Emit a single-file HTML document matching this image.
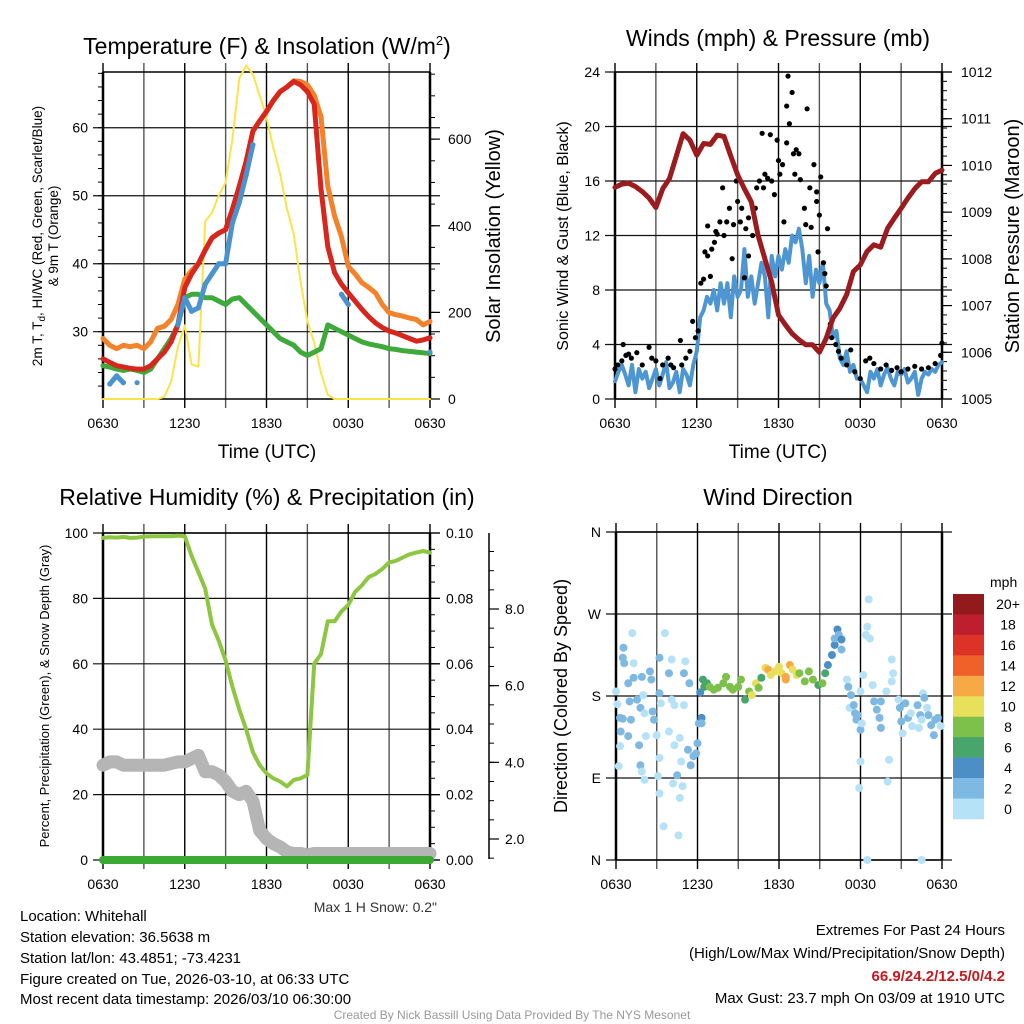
<!DOCTYPE html>
<html><head><meta charset="utf-8"><style>
html,body{margin:0;padding:0;background:#fff;}
svg{display:block;font-family:"Liberation Sans",sans-serif;}
</style></head><body>
<svg id="c" width="1024" height="1024" viewBox="0 0 1024 1024" xmlns="http://www.w3.org/2000/svg">
<rect width="1024" height="1024" fill="#fff"/>
<g id="g"></g>
<text x="267" y="54" font-size="23" text-anchor="middle">Temperature (F) &amp; Insolation (W/m<tspan dy="-9" font-size="13">2</tspan><tspan dy="9">)</tspan></text>
<text x="778" y="46" font-size="23" text-anchor="middle">Winds (mph) &amp; Pressure (mb)</text>
<text x="267" y="505" font-size="23" text-anchor="middle">Relative Humidity (%) &amp; Precipitation (in)</text>
<text x="778" y="505" font-size="23" text-anchor="middle">Wind Direction</text>
<text x="267" y="458" font-size="19" text-anchor="middle">Time (UTC)</text>
<text x="778" y="458" font-size="19" text-anchor="middle">Time (UTC)</text>
<text transform="translate(42,236) rotate(-90)" font-size="13.5" text-anchor="middle">2m T, T<tspan font-size="10" dy="3">d</tspan><tspan dy="-3">, HI/WC (Red, Green, Scarlet/Blue)</tspan></text>
<text transform="translate(58,236) rotate(-90)" font-size="13.5" text-anchor="middle">&amp; 9m T (Orange)</text>
<text transform="translate(500,236) rotate(-90)" font-size="20" text-anchor="middle">Solar Insolation (Yellow)</text>
<text transform="translate(568,236) rotate(-90)" font-size="16" text-anchor="middle">Sonic Wind &amp; Gust (Blue, Black)</text>
<text transform="translate(1019,236) rotate(-90)" font-size="20" text-anchor="middle">Station Pressure (Maroon)</text>
<text transform="translate(49,696) rotate(-90)" font-size="13" text-anchor="middle">Percent, Precipitation (Green), &amp; Snow Depth (Gray)</text>
<text transform="translate(567,696) rotate(-90)" font-size="18" text-anchor="middle">Direction (Colored By Speed)</text>
<text x="437" y="912" font-size="14" text-anchor="end" fill="#333">Max 1 H Snow: 0.2"</text>
<g font-size="15">
<text x="20" y="921">Location: Whitehall</text>
<text x="20" y="942">Station elevation: 36.5638 m</text>
<text x="20" y="963">Station lat/lon: 43.4851; -73.4231</text>
<text x="20" y="984">Figure created on Tue, 2026-03-10, at 06:33 UTC</text>
<text x="20" y="1004">Most recent data timestamp: 2026/03/10 06:30:00</text>
</g>
<g font-size="15" text-anchor="end">
<text x="1005" y="935">Extremes For Past 24 Hours</text>
<text x="1005" y="958">(High/Low/Max Wind/Precipitation/Snow Depth)</text>
<text x="1005" y="981" fill="#c8181e" font-weight="bold">66.9/24.2/12.5/0/4.2</text>
<text x="1005" y="1003">Max Gust: 23.7 mph On 03/09 at 1910 UTC</text>
</g>
<text x="512" y="1019" font-size="12" fill="#999" text-anchor="middle">Created By Nick Bassill Using Data Provided By The NYS Mesonet</text>
</svg>
<script>
// ---- data (half-hourly from 0630 UTC) ----
const xTickLabels = ["0630","1230","1830","0030","0630"];
const tempRed = [26,25.5,25,24.8,24.6,24.5,24.5,25,26,27, 28.5,31,36.5,38.5,40,42,43.8,44.5,45,48, 51.4,55,59.5,61,62.4,64,65.3,66,66.8,66.3, 65.3,63.5,51,42.5,38.7,37,35.7,34.5,33.3,32.2, 31.3,30.6,30.1,29.8,29.4,29,28.6,28.8,29.1];
const temp9mOrange = [29,28,27.5,28,27.8,28,27.5,28.5,30.5,30.8, 31.8,34,37.7,39,40,42,43.8,44.5,45,48, 51.4,55,59.5,61,62.4,64,65.3,66,66.9,66.8, 66.3,64.8,61.6,51.4,47,44,39.6,38.5,37.2,36.5, 35.7,34,32.8,32.5,32.3,32,31.8,31,31.5];
const dewGreen = [25,24.8,24.5,24.3,24.5,24.3,24,24.5,26,27.5, 29,31,35,35.5,35.5,35,35,34.5,34,34.8, 35,34,33,32,31,30,29,28.5,28,27, 26.5,27,27.5,31,30.5,30,29.5,29,28.5,28.2, 28,27.8,27.5,27.4,27.2,27.1,27,26.9,26.8];
const hiwcBlue = [null,22.3,23.5,22.5,null,22.5,null,null,null,null, null,31,35,33,33.5,37,38.5,40,40,46, 49,53,57.5,null,null,null,null,null,null,null, null,null,null,null,null,35.5,34,null,null,null, null,null,null,null,null,null,null,null,27];
const insolation = [0,0,0,0,0,0,0,0,0,5, 40,120,170,80,75,410,430,470,500,600, 740,770,750,700,650,580,520,440,380,270, 180,130,60,10,0,0,0,0,0,0, 0,0,0,0,0,0,0,0,0];
const pressure = [1009.53,1009.6,1009.62,1009.55,1009.44,1009.3,1009.1,1009.5,1009.72,1010.2, 1010.68,1010.54,1010.22,1010.47,1010.45,1010.65,1010.62,1010.2,1009.8,1009.5, 1009.22,1008.5,1008.0,1007.5,1006.8,1006.59,1006.4,1006.27,1006.16,1006.16, 1006.0,1006.3,1006.73,1006.94,1007.23,1007.73,1007.87,1008.16,1008.3,1008.25, 1008.65,1008.87,1009.08,1009.3,1009.5,1009.65,1009.65,1009.83,1009.9];
const rh = [98.5,98.7,98.6,98.8,98.5,98.6,98.9,99,99,99, 99,99.2,99,93,88,83,72,67,61,53, 46,40,33,29,26.5,25,24,22.5,24.5,25, 26,60,63,73,73,76,78,82,84,86.5, 87.5,89,91,91.5,92.5,93.5,94,94.5,94];
const snowDepth = [29,30,30,29,29,29,29,29,29,29, 29.5,30,30,31,32,27,27,26,24,21, 20,21,18,9,6.5,5,4,2.5,2,2, 1.5,2,2,2,2,2,2,2,2,2, 2,2,2,2,2,2,2,2,2];
const precip = [0,0,0,0,0,0,0,0,0,0, 0,0,0,0,0,0,0,0,0,0, 0,0,0,0,0,0,0,0,0,0, 0,0,0,0,0,0,0,0,0,0, 0,0,0,0,0,0,0,0,0];
// quarter-hourly sonic wind
const windSpeed = [1.3,2.0,2.5,1.8,1.0,2.5,0.5,2.2,1.5,2.0,0.8,1.5,2.2,1.0,1.8,2.7,0.8,1.2,2.0,0.5,2.2,1.8,1.0,2.5,
 3.5,6.0,6.5,7.5,7.0,8.0,6.5,8.5,7.0,8.5,6.0,9.0,7.5,8.0,11.0,7.5,9.0,7.0,8.5,10.0,9.0,6.0,10.5,9.0,
 10.5,9.5,11.0,10.0,12.0,11.5,12.5,11.0,8.5,10.5,7.5,9.5,8.5,10.0,7.0,6.5,4.5,5.0,3.0,2.5,3.5,2.0,2.5,1.5,
 1.5,1.0,0.5,2.0,1.5,2.2,1.0,1.8,2.3,1.5,1.0,2.0,1.8,2.2,1.2,1.5,2.0,0.3,1.5,2.0,1.8,2.2,2.0,2.5,2.7];
const gustTimes = [0,0.2,0.5,0.6,0.8,1.0,1.2,1.6,2.0,2.5,2.7,3.0,3.3,3.5,3.9,4.1,4.3,4.8,4.9,5.2,5.5,5.7,5.9,6.1,6.3,6.5,6.6,6.8,6.8,7.0,7.1,7.3,7.4,7.5,7.7,7.9,8.0,8.2,8.4,8.6,8.7,8.9,9.0,9.2,9.3,9.5,9.6,9.8,9.8,10.1,10.3,10.4,10.6,10.8,10.9,11.0,11.2,11.4,11.5,11.7,11.9,12.0,12.1,12.3,12.4,12.6,12.6,12.7,12.8,13.0,13.1,13.2,13.3,13.5,13.6,13.9,14.0,14.1,14.3,14.4,14.6,14.8,14.8,14.9,15.0,15.1,15.3,15.4,15.5,15.6,15.8,15.9,16.2,16.4,16.6,17.0,17.3,17.6,18.0,18.4,18.7,19.0,19.5,19.9,20.3,20.7,21.0,21.5,22.0,22.5,23.0,23.5,23.9,24];
const gustValues = [2.2,2.5,2.8,4,3.2,3.3,3.0,3.4,2.5,3.8,3.0,2.8,1.5,2.5,3.0,2.5,2.3,4.3,2.5,3.0,3.5,5.7,4.5,5.0,8.5,8.8,10.8,10.5,12.7,9.0,11.0,11.5,12.3,12.1,13.0,15.5,12.0,13.0,14.0,10.3,12.8,16.0,14.5,13.0,14.0,8.9,12.5,13.3,10.5,12.0,14.0,15.5,16.0,19.5,15.5,16.5,16.2,19.4,16.0,15.0,19.0,17.5,16.5,17.2,13.0,18.8,21.5,23.7,20.2,22.5,18.0,16.5,18.3,18.0,16.1,14.0,12.8,21.3,15.5,12.6,17.2,15.2,14.5,10.8,13.5,16.3,10.0,9.2,8.3,12.5,5.5,4.5,4.0,3.5,3.0,2.5,3.6,2.0,1.5,2.8,3.0,2.6,2.2,2.5,2.1,2.3,2.0,2.2,2.4,2.2,2.3,2.6,3.2,4.1];
const dirTimes = [0,0.1,0.3,0.3,0.2,0.35,0.5,0.55,0.6,0.5,0.9,1.0,1.2,1.3,1.3,1.1,0.9,1.55,1.8,1.9,2.0,2.1,1.7,1.8,1.9,2.1,2.2,2.5,2.6,2.7,2.8,3.0,3.2,3.6,3.2,3.3,3.2,3.1,3.2,3.5,3.9,4.1,4.1,4.3,3.9,4.3,4.5,4.2,5.0,5.1,5.4,5.0,4.7,4.8,4.9,4.7,4.6,5.3,5.5,5.7,5.9,6.0,6.1,6.3,6.3,6.2,6.4,6.5,
 6.7,6.9,7.2,7.5,7.9,8.1,8.4,8.6,9.0,9.2,9.5,9.8,10.0,10.3,10.5,10.7,11.0,11.2,11.4,11.7,12.0,12.2,12.5,12.8,12.5,13.0,13.3,13.5,13.9,14.2,14.5,14.9,15.2,15.4,15.6,15.9,16.1,16.1,16.3,16.4,16.6,16.6,
 17.0,17.1,17.3,17.2,17.5,17.6,17.7,17.8,18.0,18.1,18.0,17.9,18.0,18.2,18.4,18.5,18.7,18.6,18.9,19.0,19.2,19.4,19.5,19.5,19.9,20.3,20.4,20.3,20.1,20.0,20.8,20.9,21.0,21.1,21.3,21.5,21.7,21.8,22.2,22.4,22.3,22.5,22.6,22.7,22.9,23.0,23.2,23.4,23.5,23.7,23.9,22.5,18.5];
const dirDegrees = [185,171,156,125,103,141,222,233,216,155,194,174,249,200,216,154,136,176,167,201,181,161,126,104,97,88,136,207,198,163,154,137,222,249,183,172,112,92,73,37,205,220,176,170,141,126,93,84,205,218,194,170,134,108,81,68,27,121,104,114,117,128,150,156,150,184,198,190,
 194,190,187,189,194,201,190,187,190,198,176,185,181,194,189,200,211,209,203,207,212,205,201,214,198,209,203,205,196,207,198,192,194,205,214,225,236,243,253,247,242,231,
 198,190,181,167,170,161,154,159,143,150,108,79,185,203,247,256,243,286,192,174,165,156,145,174,185,220,205,196,110,86,176,167,152,139,172,156,161,147,170,159,145,154,183,178,167,159,148,137,154,156,147,0,0];
const dirSpeeds = [0,0,2,0,0,2,2,2,2,2,2,2,0,2,0,2,2,2,2,2,0,0,2,2,0,0,0,2,2,2,2,0,2,0,2,0,0,0,0,0,2,0,0,0,0,0,2,0,2,0,2,0,0,0,0,0,0,2,2,2,2,2,2,4,2,4,6,6,
 6,8,8,8,8,8,8,8,8,8,6,8,10,10,8,6,10,12,10,10,10,10,12,12,12,10,10,8,8,8,8,6,8,6,4,4,4,2,4,2,4,2,
 0,2,2,0,2,2,2,2,2,0,0,0,0,0,0,0,0,0,0,2,2,2,2,2,0,0,0,0,0,0,0,2,2,0,2,2,0,0,2,2,0,0,0,2,0,2,2,2,2,2,0,0,0];
const speedBins = ["20+","18","16","14","12","10","8","6","4","2","0"];
const binColors = ["#921a1c","#be1e2d","#dd3327","#ef6128","#f6a945","#e8e05a","#7dc04a","#47a66c","#4b8fc6","#7db9e3","#b5e2f7"];

// ---- helpers ----
const NS="http://www.w3.org/2000/svg";
const G=document.getElementById('g');
function mk(tag,attrs,parent){const e=document.createElementNS(NS,tag);for(const k in attrs)e.setAttribute(k,attrs[k]);(parent||G).appendChild(e);return e;}
function lin(d0,d1,r0,r1){return v=>r0+(v-d0)*(r1-r0)/(d1-d0);}
function halfHours(n,step){const a=[];for(let i=0;i<n;i++)a.push(i*step);return a;}

function panel(name,L,R,T,B,yTicks,yFmt,gridY){
  const g=mk('g',{});
  
  
  const xs=lin(0,24,L,R);
  for(let h=0;h<=24;h+=3){
    const x=xs(h);
    const ln=mk('line',{x1:x,x2:x,y1:T-9,y2:B+9,stroke:(h%6===0)?'#000':'#555','stroke-width':1.4},g);
    
    
  }
  xTickLabels.forEach((s,i)=>{
    const t=mk('text',{x:xs(i*6),y:B+29,'font-size':14,'text-anchor':'middle'},g);
    
    
    t.textContent=s;
  });
  yTicks.forEach(tk=>{
    const y=gridY(tk);
    const ln=mk('line',{x1:L-10,x2:R+10,y1:y,y2:y,stroke:'#111','stroke-width':1.2},g);
    
    
    const t=mk('text',{x:L-15,y:y+5,'font-size':14,'text-anchor':'end'},g);
    
    
    t.textContent=yFmt(tk);
  });
  mk('line',{x1:L,x2:L,y1:T,y2:B,stroke:'#000','stroke-width':2.5},g);
  mk('line',{x1:R,x2:R,y1:T,y2:B,stroke:'#000','stroke-width':2.5},g);
  mk('line',{x1:L,x2:R,y1:T,y2:T,stroke:'#000','stroke-width':1.5},g);
  mk('line',{x1:L,x2:R,y1:B,y2:B,stroke:'#000','stroke-width':1.5},g);
  return xs;
}
function rightAxis(name,R,ticks,sy,fmt,minor,offset){
  const g=mk('g',{});
  
  
  minor.forEach(v=>mk('line',{x1:R,x2:R+5,y1:sy(v),y2:sy(v),stroke:'#000','stroke-width':1},g));
  ticks.forEach(v=>{
    mk('line',{x1:R,x2:R+10,y1:sy(v),y2:sy(v),stroke:'#000','stroke-width':1.2},g);
    const t=mk('text',{x:R+offset,y:sy(v)+5,'font-size':14},g);
    t.textContent=fmt(v);
  });
}
function line(name,ts,vals,xs,ys,color,w,parent){
  let d='';let pen=false;
  vals.forEach((v,i)=>{
    if(v===null){pen=false;return;}
    d+=(pen?'L':'M')+xs(ts[i]).toFixed(1)+' '+ys(v).toFixed(1)+' ';pen=true;
  });
  const p=mk('path',{d:d,fill:'none',stroke:color,'stroke-width':w,'stroke-linejoin':'round','stroke-linecap':'round'},parent);
  
  
  return p;
}

const T49=halfHours(49,0.5);
const T97=halfHours(97,0.25);

// ---- Panel 1: temperature ----
{
  const L=103,R=430,T=72,B=399;
  const ys=lin(20.1,68.2,B,T);
  const xs=panel('temp',L,R,T,B,[30,40,50,60],v=>v,ys);
  const ins=lin(0,755,B,T);
  const minor=[];for(let v=50;v<=750;v+=50)minor.push(v);
  rightAxis('insolation-axis',R,[0,200,400,600],ins,v=>v,minor,18);
  const lm=[];for(let v=22;v<=68;v+=2)lm.push(v);
  lm.forEach(v=>mk('line',{x1:L-5,x2:L,y1:ys(v),y2:ys(v),stroke:'#000'}));
  line('insolation-line',T49,insolation,xs,ins,'#fbe44a',2);
  line('dewpoint-line',T49,dewGreen,xs,ys,'#3daa3a',5);
  line('temp-9m-line',T49,temp9mOrange,xs,ys,'#f4822a',5);
  line('temp-2m-line',T49,tempRed,xs,ys,'#d7261e',5);
  line('hiwc-line',T49,hiwcBlue,xs,ys,'#4b93cf',5);
  hiwcBlue.forEach((v,i)=>{if(v!==null){const c=mk('circle',{cx:xs(T49[i]),cy:ys(v),r:2.6,fill:'#4b93cf'});}});
}
// ---- Panel 2: winds ----
{
  const L=615,R=942,T=72,B=399;
  const ys=lin(0,24,B,T);
  const xs=panel('wind',L,R,T,B,[0,4,8,12,16,20,24],v=>v,ys);
  const ps=lin(1005,1012,B,T);
  const minor=[];for(let v=1005;v<=1012;v+=0.2)minor.push(v);
  rightAxis('pressure-axis',R,[1005,1006,1007,1008,1009,1010,1011,1012],ps,v=>v,minor,19);
  line('wind-speed-line',T97,windSpeed,xs,ys,'#4d96d1',4);
  gustValues.forEach((v,i)=>{const c=mk('circle',{cx:xs(gustTimes[i]),cy:ys(v),r:2.6,fill:'#000'});});
  line('pressure-line',T49,pressure,xs,ps,'#9b1b1e',5);
}
// ---- Panel 3: humidity ----
{
  const L=103,R=430,T=533,B=860;
  const ys=lin(0,100,B,T);
  const xs=panel('rh',L,R,T,B,[0,20,40,60,80,100],v=>v,ys);
  const pr=lin(0,0.1,B,T);
  const minor=[];for(let v=0;v<=0.1;v+=0.005)minor.push(v);
  rightAxis('precip-axis',R,[0,0.02,0.04,0.06,0.08,0.1],pr,v=>v.toFixed(2),minor,16);
  const sn=lin(8,2,609,839);
  const ax=mk('g',{});
  mk('line',{x1:489,x2:489,y1:533,y2:859,stroke:'#000','stroke-width':1.5},ax);
  for(let v=0.5;v<=9.5;v+=0.5){const y=sn(v);if(y>=534&&y<=859)mk('line',{x1:489,x2:494,y1:y,y2:y,stroke:'#000'},ax);}
  [2,4,6,8].forEach(v=>{mk('line',{x1:489,x2:499,y1:sn(v),y2:sn(v),stroke:'#000','stroke-width':1.2},ax);const t=mk('text',{x:505,y:sn(v)+5,'font-size':14},ax);t.textContent=v.toFixed(1);});
  line('snow-depth-line',T49,snowDepth,xs,ys,'#b5b5b5',13);
  line('precip-line',T49,precip,xs,pr,'#3aaa35',8);
  line('rh-line',T49,rh,xs,ys,'#8dc640',4);
}
// ---- Panel 4: wind direction ----
{
  const L=616,R=942,T=532,B=860;
  const ys=lin(0,360,B,T);
  const dirLabels=["N","E","S","W","N"];
  const xs=panel('wdir',L,R,T,B,[0,90,180,270,360],v=>dirLabels[v/90],ys);
  dirDegrees.forEach((d,i)=>{
    const bin=10-Math.min(10,Math.floor(dirSpeeds[i]/2));
    const c=mk('circle',{cx:xs(dirTimes[i]),cy:ys(d),r:4,fill:binColors[bin]});
    
    
  });
  const cb=mk('g',{});
  const t0=mk('text',{x:990,y:587,'font-size':14},cb);t0.textContent='mph';
  const h=225/speedBins.length;
  speedBins.forEach((s,i)=>{
    mk('rect',{x:953,y:594+i*h,width:31,height:h+0.3,fill:binColors[i]},cb);
    const t=mk('text',{x:1008,y:594+i*h+h/2+5,'font-size':14,'text-anchor':'middle'},cb);t.textContent=s;
  });
}
</script>
</body></html>
